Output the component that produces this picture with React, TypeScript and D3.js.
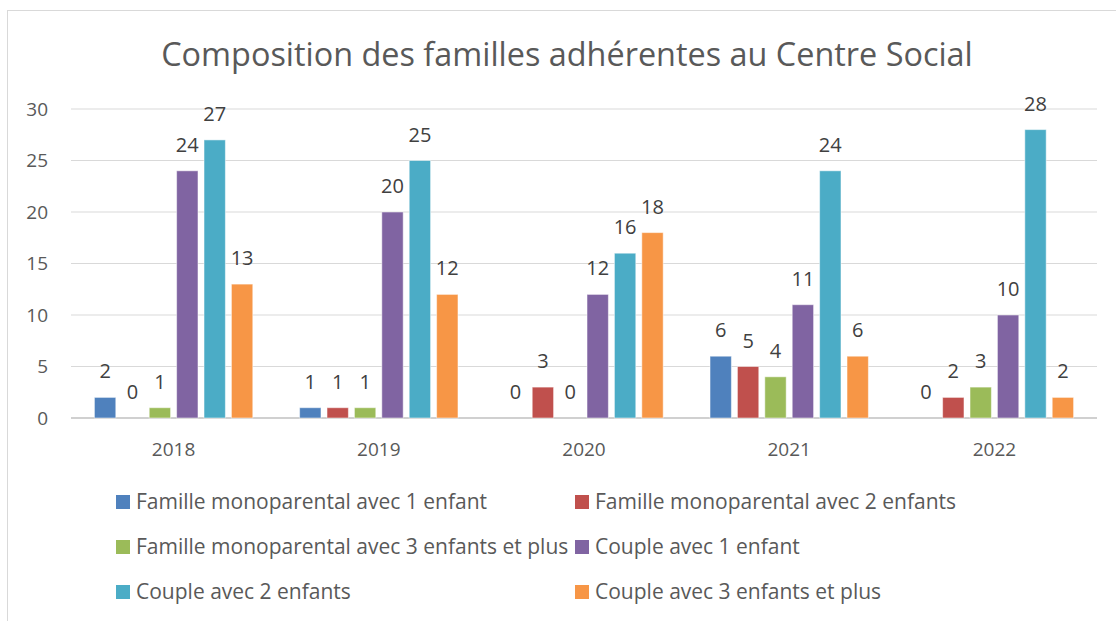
import React from 'react';
import * as d3 from 'd3';

const years = ['2018', '2019', '2020', '2021', '2022'];
const seriesNames = [
  'Famille monoparental avec 1 enfant',
  'Famille monoparental avec 2 enfants',
  'Famille monoparental avec 3 enfants et plus',
  'Couple avec 1 enfant',
  'Couple avec 2 enfants',
  'Couple avec 3 enfants et plus',
];
const mono1 = [2, 1, 0, 6, 0];
const mono2 = [0, 1, 3, 5, 2];
const mono3 = [1, 1, 0, 4, 3];
const couple1 = [24, 20, 12, 11, 10];
const couple2 = [27, 25, 16, 24, 28];
const couple3 = [13, 12, 18, 6, 2];
const seriesValues = [mono1, mono2, mono3, couple1, couple2, couple3];
const colors = ['#4f81bd', '#c0504d', '#9bbb59', '#8064a2', '#4bacc6', '#f79646'];
const yTicks = [0, 5, 10, 15, 20, 25, 30];

const W = 1116;
const H = 621;
const font = '"Open Sans", sans-serif';

export default function App() {
  const x = d3.scaleBand().domain(years).range([71, 1097]).padding(0);
  const y = d3.scaleLinear().domain([0, 30]).range([418, 109]);
  const inner = d3
    .scaleBand()
    .domain(d3.range(seriesNames.length).map(String))
    .range([-82.2, 82.2])
    .paddingInner(0.22)
    .paddingOuter(0.11);

  // legend: 2 columns x 3 rows
  const legendCols = [116, 575];
  const legendRows = [502, 547, 592];

  return (
    <svg
      width={W}
      height={H}
      style={{ position: 'absolute', left: 0, top: 0, background: '#fff' }}
      fontFamily={font}
    >
      <rect x={7.5} y={10.5} width={W + 20} height={H + 20} fill="#fff" stroke="#d9d9d9" />

      <text x={567} y={66} textAnchor="middle" fontSize={32.4} fill="#595959">
        Composition des familles adhérentes au Centre Social
      </text>

      {yTicks.map((t) => (
        <g key={t}>
          <line
            x1={71}
            x2={1097}
            y1={y(t)}
            y2={y(t)}
            stroke={t === 0 ? '#d0d0d0' : '#d9d9d9'}
            strokeWidth={t === 0 ? 1.8 : 1}
          />
          <text x={48} y={y(t)} dy="0.35em" textAnchor="end" fontSize={19} fill="#595959">
            {t}
          </text>
        </g>
      ))}

      {years.map((yr, j) => {
        const cx = (x(yr) ?? 0) + x.bandwidth() / 2;
        return (
          <g key={yr}>
            {seriesValues.map((vals, i) => {
              const v = vals[j];
              const bx = cx + (inner(String(i)) ?? 0);
              const bw = inner.bandwidth();
              return (
                <g key={i}>
                  {v > 0 && (
                    <rect
                      x={bx}
                      y={y(v)}
                      width={bw}
                      height={y(0) - y(v)}
                      fill={colors[i]}
                      stroke="#ffffff"
                      strokeOpacity={0.5}
                      strokeWidth={1}
                    />
                  )}
                  <text
                    x={bx + bw / 2}
                    y={y(v) - 19}
                    textAnchor="middle"
                    fontSize={20}
                    fill="#404040"
                  >
                    {v}
                  </text>
                </g>
              );
            })}
            <text x={cx} y={449} dy="0.35em" textAnchor="middle" fontSize={19} fill="#595959">
              {yr}
            </text>
          </g>
        );
      })}

      {seriesNames.map((name, i) => {
        const lx = legendCols[i % 2];
        const ly = legendRows[Math.floor(i / 2)];
        return (
          <g key={name}>
            <rect x={lx} y={ly - 7} width={14} height={14} fill={colors[i]} />
            <text x={lx + 20} y={ly} dy="0.35em" fontSize={21} fill="#595959">
              {name}
            </text>
          </g>
        );
      })}
    </svg>
  );
}
